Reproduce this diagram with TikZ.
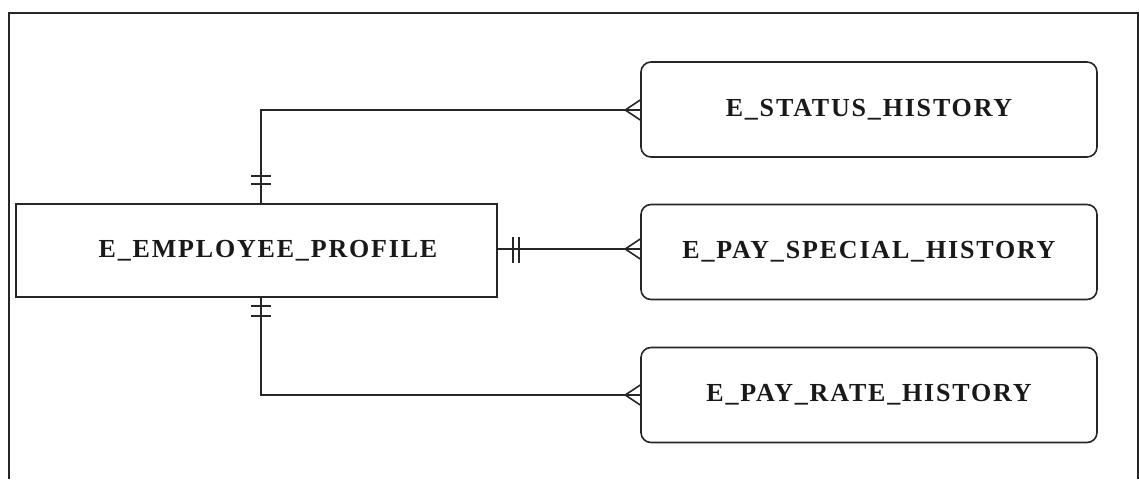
\documentclass[tikz,border=0pt]{standalone}
\usepackage{fontspec}
\newfontfamily\erfont[LetterSpace=7]{Liberation Serif}
\usetikzlibrary{calc}
\tikzset{
  line/.style={line width=1.6pt, black!85},
  label/.style={font=\erfont\bfseries\fontsize{26}{26}\selectfont, text=black!90},
  entity/.style={draw, line width=1.6pt, black!85, inner sep=0pt, label},
  mainbox/.style={entity, minimum width=481pt, minimum height=93pt},
  histbox/.style={entity, rounded corners=10pt, minimum width=456pt, minimum height=95pt},
}
\begin{document}
\begin{tikzpicture}[x=1pt, y=-1pt]
\useasboundingbox (0,0) rectangle (1139,479);
% outer frame, open at the bottom
\draw[line] (9,479) -- (9,13) -- (1138,13) -- (1138,479);

% entities
\node[mainbox] (main) at (256.5,250.5) {};
\node[label] (maint) at (268,251) {E\_EMPLOYEE\_PROFILE};
\node[histbox] (status) at (869,109.5) {E\_STATUS\_HISTORY};
\node[histbox] (special) at (869,252) {E\_PAY\_SPECIAL\_HISTORY};
\node[histbox] (rate) at (869,395) {E\_PAY\_RATE\_HISTORY};

% relationship lines
\coordinate (top) at ($(main.north)+(4.5,0)$);
\coordinate (bot) at ($(main.south)+(4.5,0)$);
\coordinate (st) at ($(status.west)+(0,0.5)$);
\coordinate (sp) at (special.west |- 0,249);
\coordinate (rt) at (rate.west);
\draw[line] (top) |- (st);
\draw[line] (main.east |- sp) -- (sp);
\draw[line] (bot) |- (rt);

% "one and only one" bars
\foreach \d in {19,27} {
  \draw[line] ($(top)+(-10,-\d)$) -- ($(top)+(10,-\d)$);
}
\foreach \d in {8,18} {
  \draw[line] ($(bot)+(-10,\d)$) -- ($(bot)+(10,\d)$);
}
\foreach \d in {15,21} {
  \draw[line] ($(main.east |- sp)+(\d,-12)$) -- ($(main.east |- sp)+(\d,14)$);
}

% crow's feet
\foreach \c in {st,sp,rt} {
  \draw[line] ($(\c)+(-15,0)$) -- ($(\c)+(0,-10)$);
  \draw[line] ($(\c)+(-15,0)$) -- ($(\c)+(0,10)$);
}
\end{tikzpicture}
\end{document}
